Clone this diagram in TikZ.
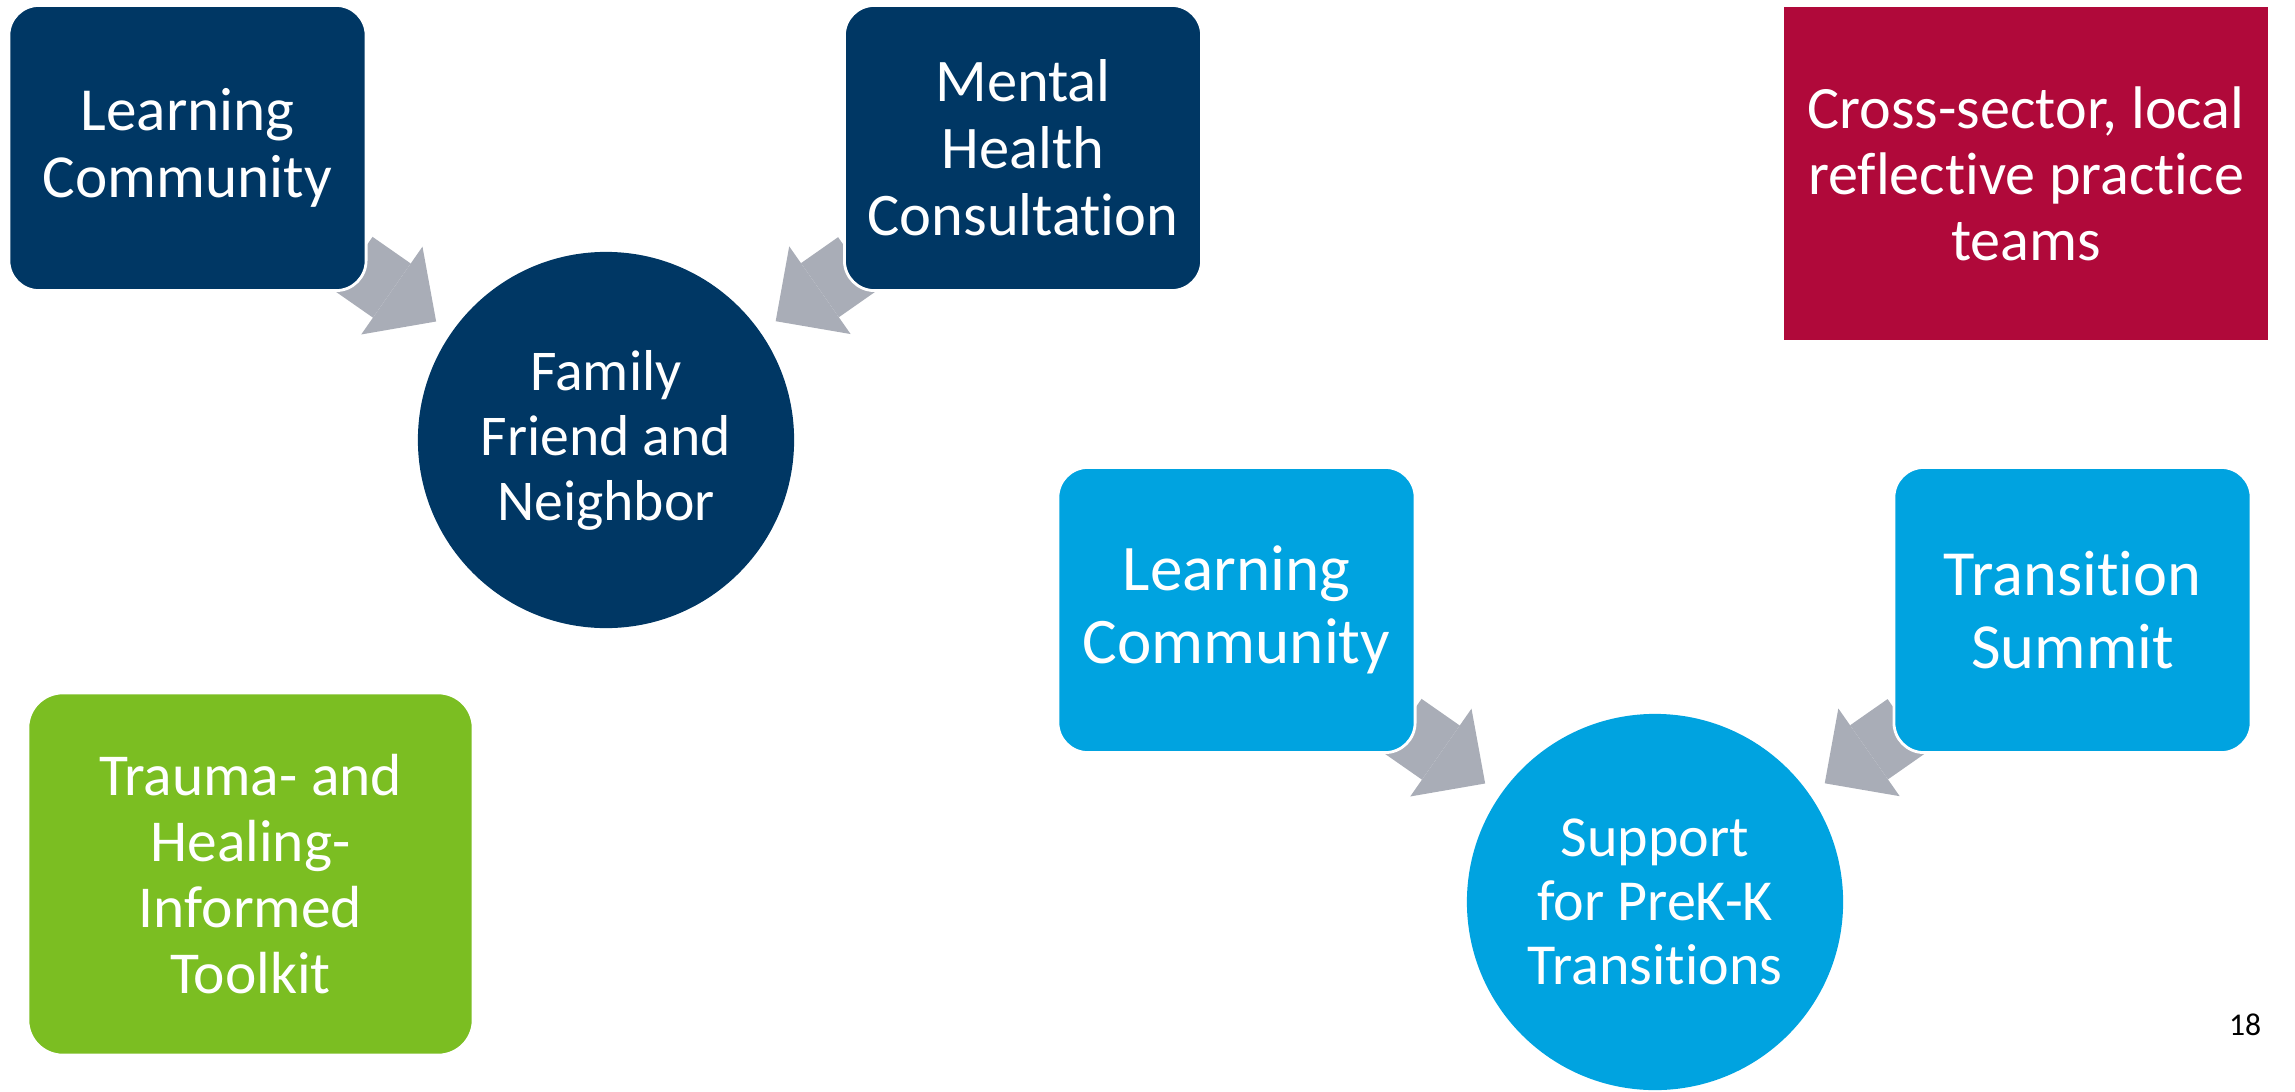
\documentclass[tikz,border=0pt]{standalone}
\usepackage{fontspec}
\setmainfont{Carlito}[Ligatures=NoCommon]
\usetikzlibrary{arrows.meta,calc,backgrounds}
\definecolor{navy}{HTML}{003764}
\definecolor{sky}{HTML}{00A3E0}
\definecolor{crimson}{HTML}{B0093A}
\definecolor{leaf}{HTML}{7BBE22}
\definecolor{feedgrey}{HTML}{A9ADB7}
\tikzset{
  tile/.style={rounded corners=0.3cm,draw=white,line width=0.8pt,text=white,align=center,
    minimum width=3.57cm,minimum height=2.85cm,inner sep=0pt},
  hub/.style={circle,text=white,align=center,minimum size=3.76cm,inner sep=0pt},
  feed/.style={draw=feedgrey,line width=0.66cm,-{Triangle[width=1.07cm,length=0.54cm,line width=0pt]}}
}
\begin{document}
\begin{tikzpicture}[x=0.01cm,y=-0.01cm]
      \useasboundingbox (0,0) rectangle (2295,1091);
      \node[tile,fill=navy,font=\fontsize{17.4}{19}\selectfont] (lc1) at (187.5,148) {Learning\\Community};
      \node[tile,fill=navy,font=\fontsize{17.2}{19}\selectfont] (mhc) at (1023,148) {Mental\\Health\\Consultation};
      \node[hub,fill=navy,font=\fontsize{16.4}{18.5}\selectfont] (ffn) at (606,440) {Family\\Friend and\\Neighbor};
      \node[fill=crimson,text=white,align=center,minimum width=4.84cm,minimum height=3.33cm,font=\fontsize{17.1}{18.8}\selectfont] (xsec) at (2026,173.5) {Cross-sector, local\\reflective practice\\teams};
      \node[tile,fill=sky,font=\fontsize{18.5}{20.8}\selectfont] (lc2) at (1236.5,610) {Learning\\Community};
      \node[tile,fill=sky,font=\fontsize{18.3}{20.8}\selectfont] (summit) at (2072.5,610) {Transition\\Summit};
      \node[hub,fill=sky,font=\fontsize{16.5}{18.3}\selectfont] (prek) at (1655,902) {Support\\for PreK-K\\Transitions};
      \node[tile,fill=leaf,minimum width=4.45cm,minimum height=3.62cm,rounded corners=0.35cm,font=\fontsize{16.9}{18.8}\selectfont] (toolkit) at (250.5,874) {Trauma- and\\Healing-\\Informed\\Toolkit};
      \node[font=\fontsize{9}{11}\selectfont] (page) at (2245,1025) {18};
      \begin{scope}[on background layer]
        \draw[feed] ($(lc1)!2.025cm!(ffn)$) -- ($(ffn)!2.07cm!(lc1)$);
        \draw[feed] ($(mhc)!2.025cm!(ffn)$) -- ($(ffn)!2.07cm!(mhc)$);
        \draw[feed] ($(lc2)!2.025cm!(prek)$) -- ($(prek)!2.07cm!(lc2)$);
        \draw[feed] ($(summit)!2.025cm!(prek)$) -- ($(prek)!2.07cm!(summit)$);
      \end{scope}
    \end{tikzpicture}
\end{document}
